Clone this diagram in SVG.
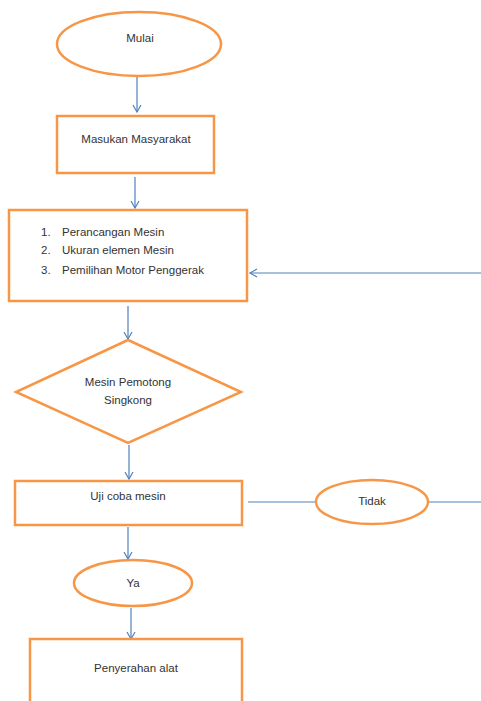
<svg xmlns="http://www.w3.org/2000/svg" width="481" height="701" viewBox="0 0 481 701">
<style>
.n{fill:#fff;stroke:#f79646;stroke-width:2.5}
.c{stroke:#4f81bd;stroke-width:1.2;fill:none}
text{font-family:"Liberation Sans",Arial,sans-serif;font-size:11.5px;fill:#333}
.m{text-anchor:middle}
</style>
<defs>
<marker id="a" markerWidth="10" markerHeight="10" refX="8" refY="5" orient="auto" markerUnits="userSpaceOnUse">
<path d="M1,1 L8,5 L1,9" fill="none" stroke="#4f81bd" stroke-width="1.2"/>
</marker>
</defs>
<rect width="481" height="701" fill="#fff"/>
<g id="connectors">
<line class="c" x1="137" y1="77" x2="137" y2="112" marker-end="url(#a)"/>
<line class="c" x1="135" y1="177" x2="135" y2="208" marker-end="url(#a)"/>
<line class="c" x1="481" y1="273" x2="250" y2="273" marker-end="url(#a)"/>
<line class="c" x1="128" y1="306" x2="128" y2="339" marker-end="url(#a)"/>
<line class="c" x1="129" y1="445" x2="129" y2="479" marker-end="url(#a)"/>
<line class="c" x1="248" y1="502" x2="316" y2="502"/>
<line class="c" x1="428" y1="502" x2="481" y2="502"/>
<line class="c" x1="128" y1="527" x2="128" y2="559" marker-end="url(#a)"/>
<line class="c" x1="131" y1="608" x2="131" y2="639" marker-end="url(#a)"/>
</g>
<g id="mulai">
<ellipse class="n" cx="139" cy="44" rx="82" ry="32"/>
<text class="m" x="140" y="42">Mulai</text>
</g>
<g id="masukan">
<rect class="n" x="57" y="116" width="157" height="57"/>
<text class="m" x="136" y="143">Masukan Masyarakat</text>
</g>
<g id="perancangan">
<rect class="n" x="9" y="210" width="238" height="91"/>
<text x="41" y="236">1.</text><text x="62" y="236">Perancangan Mesin</text>
<text x="41" y="254">2.</text><text x="62" y="254">Ukuran elemen Mesin</text>
<text x="41" y="274">3.</text><text x="62" y="274">Pemilihan Motor Penggerak</text>
</g>
<g id="mesin">
<polygon class="n" points="128,340 241,392 128,443 16,392"/>
<text class="m" x="128" y="386">Mesin Pemotong</text>
<text class="m" x="128" y="404">Singkong</text>
</g>
<g id="uji">
<rect class="n" x="15" y="481" width="227" height="44"/>
<text class="m" x="128" y="500">Uji coba mesin</text>
</g>
<g id="tidak">
<ellipse class="n" cx="372" cy="502" rx="56" ry="22"/>
<text class="m" x="372" y="505">Tidak</text>
</g>
<g id="ya">
<ellipse class="n" cx="133" cy="583" rx="59" ry="23"/>
<text class="m" x="133" y="587">Ya</text>
</g>
<g id="penyerahan">
<rect class="n" x="30" y="639" width="212" height="70"/>
<text class="m" x="136" y="672">Penyerahan alat</text>
</g>
</svg>
